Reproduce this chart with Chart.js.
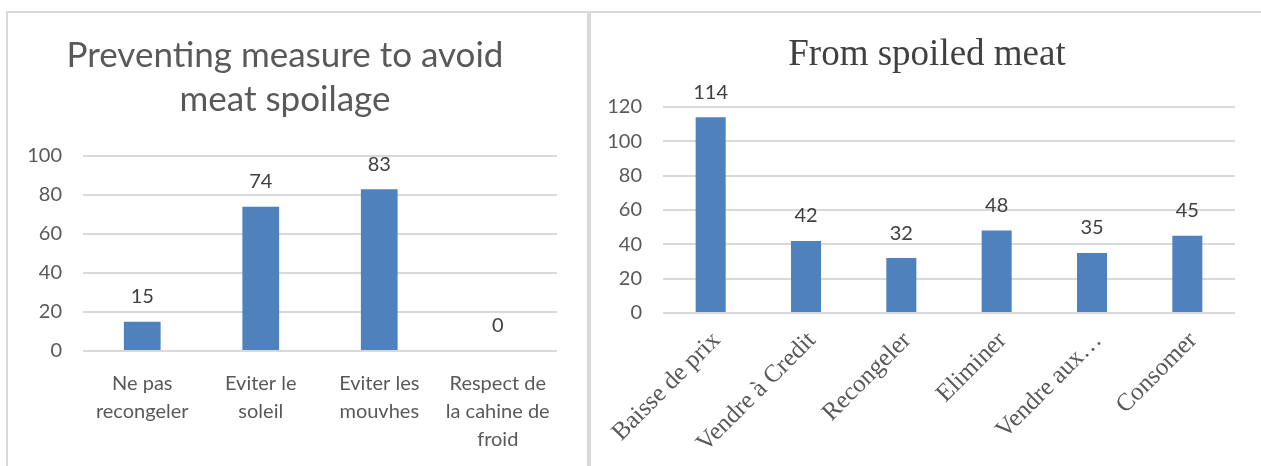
<!DOCTYPE html>
<html>
<head>
<meta charset="utf-8">
<script src="https://cdn.jsdelivr.net/npm/chart.js@4.4.1/dist/chart.umd.min.js"></script>
<style>
  body { margin: 0; background: #fff; width: 1261px; height: 466px; overflow: hidden; position: relative; }
  .panel { position: absolute; top: 11px; height: 455px; border: 2px solid #d9d9d9; border-bottom: none; box-sizing: border-box; }
  #leftPanel { left: 6px; width: 583px; }
  #rightPanel { left: 589px; width: 680px; }
  canvas { display: block; }
</style>
</head>
<body>
<div class="panel" id="leftPanel"><canvas id="measures" width="579" height="453"></canvas></div>
<div class="panel" id="rightPanel"><canvas id="spoiled" width="676" height="453"></canvas></div>
<script>
// preventing measures
const measureLabels = [
  ['Ne pas', 'recongeler'],
  ['Eviter le', 'soleil'],
  ['Eviter les', 'mouvhes'],
  ['Respect de', 'la cahine de', 'froid']
];
const measureValues = [15, 74, 83, 0];
const measureTicks = [0, 20, 40, 60, 80, 100];

// what is done with spoiled meat
const spoiledLabels = ['Baisse de prix', 'Vendre à Credit', 'Recongeler', 'Eliminer', 'Vendre aux…', 'Consomer'];
const spoiledValues = [114, 42, 32, 48, 35, 45];
const spoiledTicks = [0, 20, 40, 60, 80, 100, 120];

const BLUE = '#4f81bd';
const GRID = '#d9d9d9';
const SANS = 'Lato, "Open Sans", sans-serif';
const SERIF = '"Liberation Serif", "DejaVu Serif", serif';

// numbers above the bars
const valueLabels = {
  id: 'valueLabels',
  afterDatasetsDraw(chart) {
    const c = chart.ctx;
    const meta = chart.getDatasetMeta(0);
    const vals = chart.data.datasets[0].data;
    c.save();
    c.font = '20px ' + SANS;
    c.fillStyle = '#404040';
    c.textAlign = 'center';
    c.textBaseline = 'middle';
    meta.data.forEach((bar, i) => {
      c.fillText(String(vals[i]), bar.x, bar.y - 25);
    });
    c.restore();
  }
};

// chart heading, placed freely so it is not tied to the layout boxes
const heading = {
  id: 'heading',
  afterDraw(chart, args, opts) {
    const c = chart.ctx;
    c.save();
    c.font = opts.font;
    c.fillStyle = opts.color;
    c.textAlign = 'center';
    c.textBaseline = 'middle';
    opts.lines.forEach((t, i) => c.fillText(t, opts.x, opts.y + i * opts.step));
    c.restore();
  }
};

function makeChart(id, cfg) {
  return new Chart(document.getElementById(id), {
    type: 'bar',
    data: {
      labels: cfg.labels,
      datasets: [{
        data: cfg.values,
        backgroundColor: BLUE,
        borderWidth: 0,
        categoryPercentage: 1,
        barPercentage: cfg.barPct
      }]
    },
    options: {
      responsive: false,
      animation: false,
      layout: { padding: { left: 0, right: cfg.padRight, top: cfg.padTop, bottom: 0 } },
      plugins: {
        legend: { display: false },
        tooltip: { enabled: false },
        title: { display: false },
        heading: cfg.heading
      },
      scales: {
        x: {
          grid: { display: false, drawTicks: false },
          border: { display: false },
          afterFit: s => { s.height = cfg.xHeight; },
          ticks: {
            color: '#595959',
            font: cfg.xFont,
            padding: cfg.xPad,
            labelOffset: cfg.xShift,
            minRotation: cfg.rot,
            maxRotation: cfg.rot,
            autoSkip: false
          }
        },
        y: {
          min: 0,
          max: cfg.ticks[cfg.ticks.length - 1],
          afterFit: s => { s.width = cfg.yWidth; },
          afterBuildTicks: s => { s.ticks = cfg.ticks.map(v => ({ value: v })); },
          grid: { color: GRID, lineWidth: 2, drawTicks: false },
          border: { display: false },
          ticks: { color: '#595959', font: { family: SANS, size: 20 }, padding: 21 }
        }
      }
    },
    plugins: [valueLabels, heading]
  });
}

makeChart('measures', {
  labels: measureLabels,
  values: measureValues,
  ticks: measureTicks,
  heading: {
    lines: ['Preventing measure to avoid', 'meat spoilage'],
    font: '35px ' + SANS, color: '#595959', x: 277, y: 43, step: 44
  },
  barPct: 0.31,
  padTop: 143,
  padRight: 30,
  yWidth: 75,
  xHeight: 115,
  xPad: 18,
  xShift: 0,
  xFont: { family: SANS, size: 20, lineHeight: 1.42 },
  rot: 0
});

makeChart('spoiled', {
  labels: spoiledLabels,
  values: spoiledValues,
  ticks: spoiledTicks,
  heading: {
    lines: ['From spoiled meat'],
    font: '37px ' + SERIF, color: '#404040', x: 336, y: 42, step: 0
  },
  barPct: 0.315,
  padTop: 94,
  padRight: 32,
  yWidth: 72,
  xHeight: 153,
  xPad: 13,
  xShift: 6,
  xFont: { family: SERIF, size: 25 },
  rot: 45
});
</script>
</body>
</html>
